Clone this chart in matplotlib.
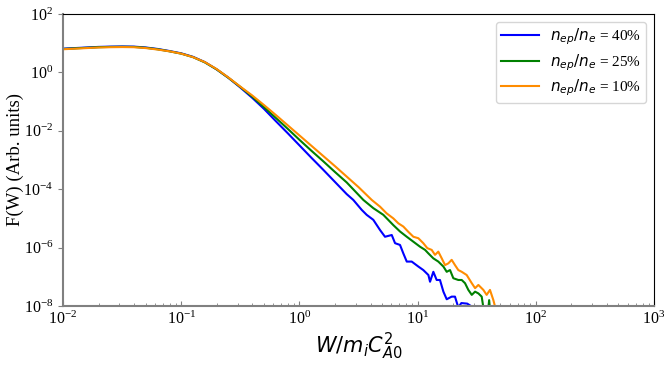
import numpy as np
import matplotlib
matplotlib.use("Agg")
import matplotlib.pyplot as plt
from matplotlib.ticker import NullLocator, LogLocator

plt.rcParams['font.family'] = ['Liberation Serif', 'DejaVu Serif']
plt.rcParams['mathtext.fontset'] = 'dejavusans'

# log10(W) and log10(F)
logw_40 = [-2.0, -1.9, -1.8, -1.7, -1.6, -1.5, -1.4, -1.3, -1.2, -1.1, -1.0, -0.9, -0.8, -0.7,
           -0.6, -0.5, -0.4, -0.3, -0.2, -0.1, 0.0,
           0.1, 0.2, 0.3, 0.4, 0.456, 0.527, 0.569, 0.625, 0.682, 0.724, 0.781, 0.809, 0.851,
           0.879, 0.908, 0.950, 1.006, 1.048, 1.091, 1.105, 1.133, 1.161, 1.189, 1.218, 1.246,
           1.288, 1.316, 1.344, 1.37, 1.42, 1.45, 1.47]
logf_40 = [0.81, 0.83, 0.85, 0.87, 0.88, 0.885, 0.88, 0.85, 0.80, 0.73, 0.65, 0.53, 0.35, 0.10,
           -0.19, -0.52, -0.87, -1.25, -1.67, -2.08, -2.50,
           -2.92, -3.33, -3.75, -4.17, -4.37, -4.71, -4.88, -5.05, -5.40, -5.63, -5.57, -5.85, -5.91,
           -6.20, -6.48, -6.48, -6.65, -6.77, -6.94, -7.17, -6.83, -7.11, -7.11, -7.51, -7.77,
           -7.68, -7.68, -8.05, -7.90, -7.92, -8.00, -8.40]

logw_25 = [-2.0, -1.9, -1.8, -1.7, -1.6, -1.5, -1.4, -1.3, -1.2, -1.1, -1.0, -0.9, -0.8, -0.7,
           -0.6, -0.5, -0.4, -0.3, -0.2, -0.1, 0.0,
           0.1, 0.2, 0.3, 0.4, 0.541, 0.625, 0.710, 0.794, 0.851, 0.908, 0.964, 1.020, 1.063,
           1.091, 1.133, 1.175, 1.218, 1.246, 1.274, 1.302, 1.344, 1.373, 1.401, 1.429, 1.458,
           1.486, 1.514, 1.542, 1.556, 1.585, 1.605, 1.62]
logf_25 = [0.80, 0.82, 0.84, 0.86, 0.87, 0.875, 0.87, 0.84, 0.79, 0.72, 0.64, 0.52, 0.34, 0.10,
           -0.19, -0.50, -0.83, -1.19, -1.56, -1.93, -2.31,
           -2.68, -3.04, -3.41, -3.77, -4.37, -4.65, -4.88, -5.23, -5.45, -5.63, -5.80, -5.97, -6.08,
           -6.20, -6.37, -6.48, -6.65, -6.83, -6.77, -7.05, -7.11, -7.11, -7.22, -7.45, -7.62,
           -7.51, -7.57, -7.68, -8.05, -8.60, -7.80, -8.50]

logw_10 = [-2.0, -1.9, -1.8, -1.7, -1.6, -1.5, -1.4, -1.3, -1.2, -1.1, -1.0, -0.9, -0.8, -0.7,
           -0.6, -0.5, -0.4, -0.3, -0.2, -0.1, 0.0,
           0.1, 0.2, 0.3, 0.4, 0.5, 0.612, 0.682, 0.738, 0.794, 0.837, 0.879, 0.921, 0.964,
           1.006, 1.048, 1.082, 1.119, 1.147, 1.175, 1.204, 1.232, 1.260, 1.288, 1.316, 1.344,
           1.373, 1.415, 1.458, 1.486, 1.514, 1.556, 1.584, 1.612, 1.640, 1.655, 1.67]
logf_10 = [0.79, 0.81, 0.83, 0.85, 0.86, 0.865, 0.86, 0.83, 0.78, 0.72, 0.64, 0.52, 0.35, 0.11,
           -0.18, -0.49, -0.79, -1.12, -1.46, -1.81, -2.16,
           -2.51, -2.86, -3.21, -3.57, -3.93, -4.37, -4.60, -4.83, -5.00, -5.17, -5.28, -5.46, -5.63,
           -5.68, -5.85, -6.02, -6.08, -6.25, -6.14, -6.37, -6.60, -6.54, -6.42, -6.60, -6.77,
           -6.83, -6.94, -7.22, -7.39, -7.28, -7.45, -7.62, -7.45, -7.79, -8.02, -8.40]

labels = [r'$n_{ep}/n_e$ = 40%', r'$n_{ep}/n_e$ = 25%', r'$n_{ep}/n_e$ = 10%']
colors = ['#0000ff', '#008000', '#ff8c00']

fig = plt.figure(figsize=(6.64, 3.66), dpi=100)
ax = fig.add_axes([0.0949, 0.164, 0.8901, 0.798])

for lw_, lf_, lab, c in zip([logw_40, logw_25, logw_10], [logf_40, logf_25, logf_10], labels, colors):
    ax.plot(10.0 ** np.array(lw_), 10.0 ** np.array(lf_), color=c, lw=1.5, label=lab)

ax.set_xscale('log')
ax.set_yscale('log')
ax.set_xlim(1e-2, 1e3)
ax.set_ylim(1e-8, 1e2)
ax.set_yticks([1e-8, 1e-6, 1e-4, 1e-2, 1e0, 1e2])
ax.yaxis.set_minor_locator(NullLocator())
ax.xaxis.set_minor_locator(LogLocator(base=10, subs=np.arange(2, 10), numticks=20))

for s in ['left', 'bottom']:
    ax.spines[s].set_color('#808080')
    ax.spines[s].set_linewidth(1.5)
for s in ['top', 'right']:
    ax.spines[s].set_color('black')
    ax.spines[s].set_linewidth(0.8)
ax.tick_params(which='both', colors='#808080', labelcolor='black', labelsize=11.5)
ax.tick_params(axis='x', which='both', direction='in')

ax.set_ylabel('F(W) (Arb. units)', fontsize=13.5)
ax.yaxis.set_label_coords(-0.066, 0.5)
ax.set_xlabel(r'$W/m_iC_{A0}^2$', fontsize=15, labelpad=2)
ax.legend(loc='upper right', fontsize=11, handlelength=2.5, labelspacing=0.3,
          borderpad=0.35, handletextpad=0.7)

fig.savefig('out.png', dpi=100)
